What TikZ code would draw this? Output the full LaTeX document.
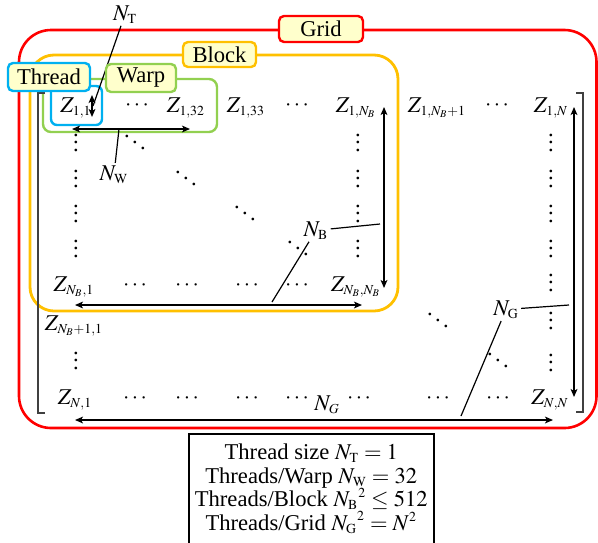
\documentclass[tikz,border=0pt]{standalone}
\usepackage{mathptmx}
\usepackage{fontspec}
\setmainfont{Liberation Serif}
\usetikzlibrary{arrows.meta}
\DeclareMathSizes{11.3}{11.3}{6.9}{5.2}
\definecolor{gridred}{HTML}{FF0000}
\definecolor{blockor}{HTML}{FFC000}
\definecolor{warpgr}{HTML}{92D050}
\definecolor{threadbl}{HTML}{00B0F0}
\definecolor{tagfill}{HTML}{FFFFCC}
\definecolor{brk}{HTML}{404040}
\newcommand\myvd{\vbox{\baselineskip3.75pt\lineskiplimit0pt\hbox{.}\hbox{.}\hbox{.}}}
\newcommand\mydd{\hbox{\kern0.5pt\raise7pt\hbox{.}\kern1.2pt\raise4pt\hbox{.}\kern1.2pt\raise1pt\hbox{.}\kern0.5pt}}
\begin{document}
\begin{tikzpicture}[x=0.5pt,y=-0.5pt,
  every node/.style={font=\fontsize{11.3}{13.6}\selectfont, inner sep=1pt},
  tag/.style={draw, line width=1.2pt, fill=tagfill, rounded corners=2.5pt, inner sep=0pt},
  cell/.style={anchor=base, inner sep=0pt},
  lbl/.style={anchor=base, inner sep=1pt},
  dimarrow/.style={line width=0.7pt, {Stealth[length=4pt,width=3.4pt,inset=1pt]}-{Stealth[length=4pt,width=3.4pt,inset=1pt]}},
  leader/.style={line width=0.6pt},
  bracket/.style={brk, line width=0.6pt}
]
\useasboundingbox (0,0) rectangle (598,542);

% regions
\draw[gridred, line width=1.3pt, rounded corners=16pt] (19,30) rectangle (596.5,428);
\draw[blockor, line width=1.4pt, rounded corners=12pt] (30,55) rectangle (398,311);
\draw[warpgr, line width=1.2pt, rounded corners=4pt] (43,79) rectangle (217,132);
\draw[threadbl, line width=1.2pt, rounded corners=3pt] (51,86) rectangle (102,125);

% matrix brackets
\draw[bracket] (45,93) -- (38,93) -- (38,413) -- (45,413);
\draw[bracket] (576,93) -- (583,93) -- (583,412) -- (576,412);

% row 1
\node[cell] (z11) at (76,112.5) {$Z_{1,1}$};
\node[cell] (h12) at (137,110.6) {$\cdots$};
\node[cell] (z132) at (186,112.5) {$Z_{1,32}$};
\node[cell] (z133) at (246,112.5) {$Z_{1,33}$};
\node[cell] (h15) at (297,110.6) {$\cdots$};
\node[cell] (z1nb) at (356,112.5) {$Z_{1,N_B}$};
\node[cell] (z1nb1) at (437,112.5) {$Z_{1,N_B+1}$};
\node[cell] (h18) at (497,110.6) {$\cdots$};
\node[cell] (z1n) at (551,112.5) {$Z_{1,N}$};

% rows 2-5
\node[cell] (v21) at (76,151) {\myvd};
\node[cell] (v31) at (76,187) {\myvd};
\node[cell] (v41) at (76,222) {\myvd};
\node[cell] (v51) at (76,257) {\myvd};
\node[cell] (d22) at (135,151) {\mydd};
\node[cell] (d33) at (186,187) {\mydd};
\node[cell] (d44) at (245,222) {\mydd};
\node[cell] (d55) at (298,257) {\mydd};
\node[cell] (v26) at (358,151) {\myvd};
\node[cell] (v36) at (358,187) {\myvd};
\node[cell] (v46) at (358,222) {\myvd};
\node[cell] (v56) at (358,257) {\myvd};
\node[cell] (v29) at (551,151) {\myvd};
\node[cell] (v39) at (551,187) {\myvd};
\node[cell] (v49) at (551,222) {\myvd};
\node[cell] (v59) at (551,257) {\myvd};

% row N_B
\node[cell] (znb1) at (74,291.5) {$Z_{N_B,1}$};
\node[cell] (h62) at (135,290) {$\cdots$};
\node[cell] (h63) at (187,290) {$\cdots$};
\node[cell] (h64) at (247,290) {$\cdots$};
\node[cell] (h65) at (297,290) {$\cdots$};
\node[cell] (znbnb) at (356,291) {$Z_{N_B,N_B}$};
\node[cell] (v69) at (551,291) {\myvd};

% row N_B+1
\node[cell] (znb11) at (74,330) {$Z_{N_B+1,1}$};
\node[cell] (d77) at (438,329) {\mydd};
\node[cell] (v79) at (551,329) {\myvd};

% row 8
\node[cell] (v81) at (76,369) {\myvd};
\node[cell] (d88) at (498,369) {\mydd};
\node[cell] (v89) at (551,371) {\myvd};

% row N
\node[cell] (zn1) at (75,404) {$Z_{N,1}$};
\node[cell] (h92) at (135,403.6) {$\cdots$};
\node[cell] (h93) at (187,403.6) {$\cdots$};
\node[cell] (h94) at (247,403.6) {$\cdots$};
\node[cell] (h95) at (297,403.6) {$\cdots$};
\node[cell] (h96) at (359,403.6) {$\cdots$};
\node[cell] (h97) at (438,403.6) {$\cdots$};
\node[cell] (h98) at (498,403.6) {$\cdots$};
\node[cell] (znn) at (550,404) {$Z_{N,N}$};

% dimension arrow end points
\coordinate (ntT) at (92,95);
\coordinate (ntB) at (92,117);
\coordinate (ntM) at (93,106);
\coordinate (nwL) at (72,129);
\coordinate (nwR) at (190,129);
\coordinate (nwM) at (119,129);
\coordinate (nbT) at (384,107);
\coordinate (nbB) at (384,288);
\coordinate (nbV) at (380,224);
\coordinate (nbL) at (75,305);
\coordinate (nbR) at (362,305);
\coordinate (nbH) at (272,302);
\coordinate (ngT) at (574,107);
\coordinate (ngB) at (574,397);
\coordinate (ngV) at (569,305);
\coordinate (ngL) at (75,420);
\coordinate (ngR) at (553,420);
\coordinate (ngH) at (461,416);

\draw[dimarrow, line width=1pt] (ntT) -- (ntB);
\draw[dimarrow] (nwL) -- (nwR);
\draw[dimarrow] (nbT) -- (nbB);
\draw[dimarrow] (nbL) -- (nbR);
\draw[dimarrow, line width=0.9pt] (ngT) -- (ngB);
\draw[dimarrow] (ngL) -- (ngR);

% labels and leaders
\node[lbl] (NT) at (125,20) {$N_{\mathrm{T}}$};
\node[lbl] (NW) at (114,180) {$N_{\mathrm{W}}$};
\node[lbl] (NB) at (316,236) {$N_{\mathrm{B}}$};
\node[lbl] (NG) at (506,315) {$N_{\mathrm{G}}$};
\node[lbl] (NGb) at (327,410) {$N_{G}$};

\draw[leader] (NT) -- (ntM);
\draw[leader] (NW) -- (nwM);
\draw[leader] (NB) -- (nbV);
\draw[leader] (NB) -- (nbH);
\draw[leader] (NG) -- (ngV);
\draw[leader] (NG) -- (ngH);

% tags
\node[tag, draw=gridred, minimum width=42pt, minimum height=13pt] (gridtag) at (321,29) {Grid};
\node[tag, draw=blockor, minimum width=36.5pt, minimum height=12.5pt] (blocktag) at (219.5,54.5) {Block};
\node[tag, draw=warpgr, minimum width=35pt, minimum height=14pt] (warptag) at (141,78) {Warp};
\node[tag, draw=threadbl, minimum width=41pt, minimum height=14pt] (threadtag) at (49,77) {Thread};

% legend
\node[draw, line width=0.75pt, anchor=north west, minimum width=122.5pt, minimum height=55pt,
      inner sep=0pt, align=center, font=\fontsize{11.3}{11.75}\selectfont] (legend) at (188,433)
  {Thread size $N_{\mathrm{T}} = 1$\\
   Threads/Warp $N_{\mathrm{W}} = 32$\\
   Threads/Block ${N_{\mathrm{B}}}^{2} \le 512$\\
   Threads/Grid ${N_{\mathrm{G}}}^{2} = N^{2}$};
\end{tikzpicture}
\end{document}
